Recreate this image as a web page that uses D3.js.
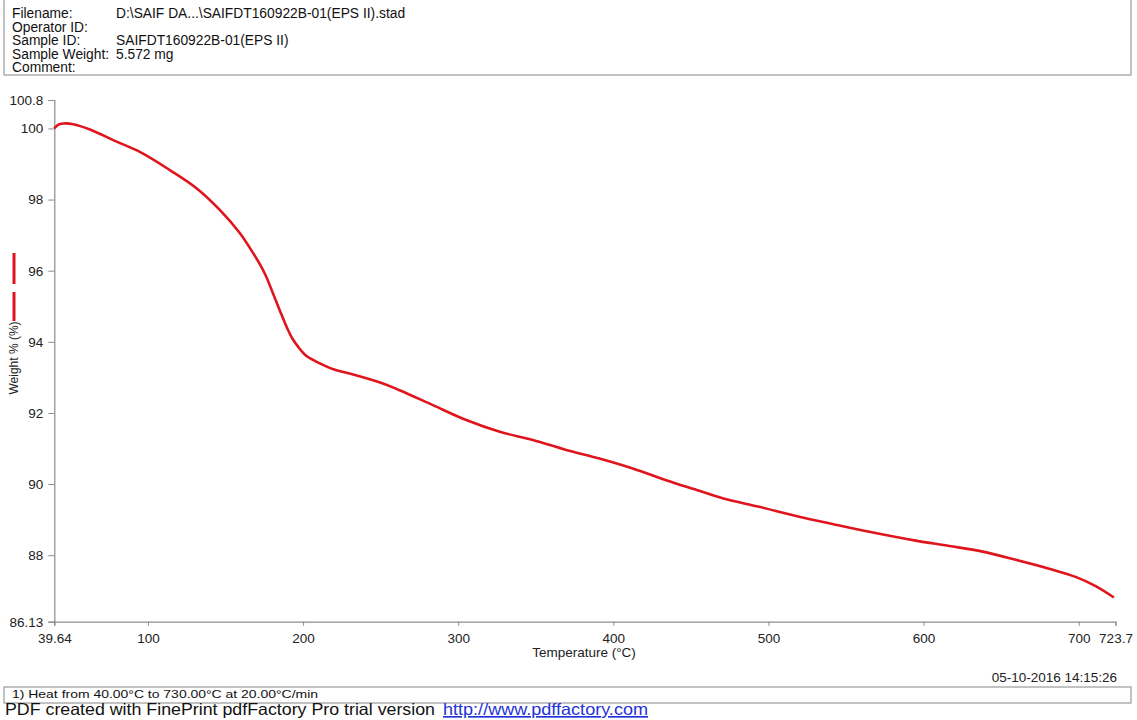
<!DOCTYPE html>
<html>
<head>
<meta charset="utf-8">
<script src="https://cdn.jsdelivr.net/npm/d3@7"></script>
<style>
  body { margin: 0; background: #fff; }
  svg { display: block; font-family: "Liberation Sans", Arial, sans-serif; }
</style>
</head>
<body>
<div id="chart"></div>
<script>
// TGA run, weight % vs temperature
const temperature = [39.64, 42, 45.4, 51.9, 62.6, 79.8, 94.8, 114.1, 131.3, 146.3, 159.2, 167, 172.2, 176,
  180.7, 185, 189.3, 193, 197, 202.2, 207, 212.9, 220, 230, 251.5, 262.2, 283.7, 305.2, 326.8, 348.1,
  369.6, 391, 412.5, 434, 455.5, 470.4, 494, 519.8, 541.2, 565, 595, 616.6, 638, 659.4, 680.9, 698, 710.9, 722.7];
const weight = [100.0, 100.1, 100.14, 100.12, 99.97, 99.63, 99.34, 98.83, 98.32, 97.71, 97.06, 96.55, 96.18, 95.86,
  95.35, 94.88, 94.43, 94.1, 93.85, 93.6, 93.48, 93.35, 93.22, 93.11, 92.83, 92.64, 92.22, 91.8, 91.47, 91.24,
  90.96, 90.72, 90.44, 90.11, 89.81, 89.6, 89.36, 89.08, 88.88, 88.66, 88.41, 88.26, 88.1, 87.87, 87.62, 87.39, 87.13, 86.81];

const xTicks = [39.64, 100, 200, 300, 400, 500, 600, 700, 723.7];
const yTicks = [100.8, 100, 98, 96, 94, 92, 90, 88, 86.13];

const headerLabels = ["Filename:", "Operator ID:", "Sample ID:", "Sample Weight:", "Comment:"];
const headerValues = ["D:\\SAIF DA...\\SAIFDT160922B-01(EPS II).stad", "", "SAIFDT160922B-01(EPS II)", "5.572 mg", ""];

const width = 1137, height = 720;
const svg = d3.select("#chart").append("svg")
  .attr("width", width).attr("height", height);

const x = d3.scaleLinear().domain([39.64, 723.7]).range([54.3, 1115.5]);
const y = d3.scaleLinear().domain([86.13, 100.8]).range([621.7, 100]);

// header box
svg.append("rect")
  .attr("x", 4).attr("y", -1).attr("width", 1127).attr("height", 76)
  .attr("fill", "none").attr("stroke", "#9a9a9a").attr("stroke-width", 1.2);

const hdr = svg.append("g").attr("font-size", 13.8).attr("fill", "#111");
headerLabels.forEach((t, i) => {
  hdr.append("text").attr("x", 12).attr("y", 18 + i * 13.6).text(t);
  if (headerValues[i]) hdr.append("text").attr("x", 116).attr("y", 18 + i * 13.6).text(headerValues[i]);
});

// axes
const gx = svg.append("g").attr("transform", `translate(0,${y(86.13)})`)
  .call(d3.axisBottom(x).tickValues(xTicks).tickSize(4).tickPadding(8)
    .tickFormat(d => String(d)));
const gy = svg.append("g").attr("transform", `translate(${x(39.64)},0)`)
  .call(d3.axisLeft(y).tickValues(yTicks).tickSize(6).tickPadding(5)
    .tickFormat(d => String(d)));

[gx, gy].forEach(g => {
  g.select(".domain").attr("stroke", "#8c8c8c").attr("stroke-width", 1.2);
  g.selectAll(".tick line").attr("stroke", "#8c8c8c");
  g.selectAll(".tick text").attr("font-size", 13.5).attr("fill", "#222")
    .attr("font-family", "Liberation Sans, Arial, sans-serif");
});

svg.append("text")
  .attr("x", 584).attr("y", 657).attr("text-anchor", "middle")
  .attr("font-size", 13.5).attr("fill", "#222").text("Temperature (°C)");

svg.append("text")
  .attr("transform", "translate(18,358) rotate(-90)")
  .attr("text-anchor", "middle").attr("font-size", 12).attr("fill", "#222")
  .text("Weight % (%)");

// legend swatches
[[253, 284], [292, 321]].forEach(([a, b]) => {
  svg.append("line").attr("x1", 14).attr("x2", 14).attr("y1", a).attr("y2", b)
    .attr("stroke", "#e0141c").attr("stroke-width", 3);
});

// curve
const pts = temperature.map((t, i) => [t, weight[i]]);
svg.append("path")
  .datum(pts)
  .attr("fill", "none")
  .attr("stroke", "#e0141c")
  .attr("stroke-width", 2.6)
  .attr("stroke-linejoin", "round")
  .attr("d", d3.line().x(d => x(d[0])).y(d => y(d[1])).curve(d3.curveCatmullRom.alpha(0.5)));

// footer
svg.append("text")
  .attr("x", 1117).attr("y", 682).attr("text-anchor", "end")
  .attr("font-size", 13.5).attr("fill", "#222").text("05-10-2016 14:15:26");

svg.append("rect")
  .attr("x", 4).attr("y", 687).attr("width", 1127).attr("height", 16)
  .attr("fill", "none").attr("stroke", "#9a9a9a").attr("stroke-width", 1.2);
svg.append("text")
  .attr("x", 12).attr("y", 698).attr("font-size", 11.5)
  .attr("textLength", 306).attr("lengthAdjust", "spacingAndGlyphs").attr("fill", "#111")
  .text("1)  Heat from 40.00°C to 730.00°C at 20.00°C/min");

svg.append("text").attr("x", 5).attr("y", 715).attr("font-size", 16.5)
  .attr("textLength", 430).attr("lengthAdjust", "spacingAndGlyphs").attr("fill", "#111")
  .text("PDF created with FinePrint pdfFactory Pro trial version");
svg.append("text").attr("x", 443).attr("y", 715).attr("font-size", 16.5)
  .attr("textLength", 205).attr("lengthAdjust", "spacingAndGlyphs")
  .attr("fill", "#1f33d6").attr("text-decoration", "underline")
  .text("http://www.pdffactory.com");
</script>
</body>
</html>
